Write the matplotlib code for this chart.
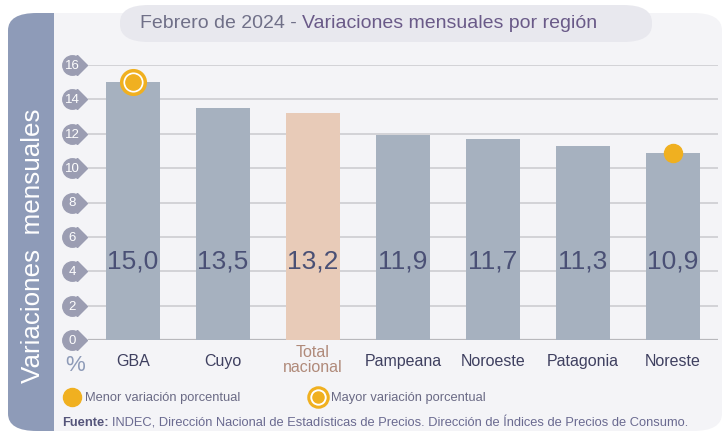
import matplotlib
matplotlib.use('Agg')
import matplotlib.pyplot as plt
from matplotlib.patches import FancyBboxPatch, Rectangle
from matplotlib.transforms import blended_transform_factory

plt.rcParams['font.family'] = ['Liberation Sans', 'DejaVu Sans']

regions = ['GBA', 'Cuyo', 'Total\nnacional', 'Pampeana', 'Noroeste', 'Patagonia', 'Noreste']
values = [15.0, 13.5, 13.2, 11.9, 11.7, 11.3, 10.9]
value_labels = ['15,0', '13,5', '13,2', '11,9', '11,7', '11,3', '10,9']
yticks = [0, 2, 4, 6, 8, 10, 12, 14, 16]

W, H = 725, 435
fig = plt.figure(figsize=(W / 100, H / 100), dpi=100)
fig.patch.set_facecolor('white')

def fx(px):
    return px / W

def fy(py):
    return 1 - py / H

# background panel
panel_col = '#f4f4f7'
band_col = '#8e9bb8'
fig.patches.append(FancyBboxPatch((fx(8), fy(432)), fx(714), (432 - 14) / H,
                                  boxstyle='round,pad=0,rounding_size=0.04',
                                  transform=fig.transFigure, fc=panel_col, ec='none', zorder=0))
fig.patches.append(FancyBboxPatch((fx(8), fy(432)), fx(80), (432 - 14) / H,
                                  boxstyle='round,pad=0,rounding_size=0.04',
                                  transform=fig.transFigure, fc=band_col, ec='none', zorder=0))
fig.patches.append(Rectangle((fx(54), fy(432)), fx(60), (432 - 14) / H,
                             transform=fig.transFigure, fc=panel_col, ec='none', zorder=0))
# title pill
fig.patches.append(FancyBboxPatch((fx(120), fy(43)), fx(532), 37 / H,
                                  boxstyle='round,pad=0,rounding_size=0.04',
                                  transform=fig.transFigure, fc='#e8e8ee', ec='none', zorder=1))

t1 = fig.text(fx(140), fy(24), 'Febrero de 2024 - ', fontsize=14, color='#707088',
              va='center', ha='left')
fig.canvas.draw()
bb = t1.get_window_extent()
fig.text(bb.x1 / W, fy(24), 'Variaciones mensuales por región', fontsize=14,
         color='#6a5a88', va='center', ha='left')

ax = fig.add_axes([fx(88), fy(341), fx(630), 275 / H])
ax.set_zorder(3)
ax.set_facecolor('none')
ax.set_xlim(-0.5, 6.5)
ax.set_ylim(0, 16)
for s in ax.spines.values():
    s.set_visible(False)
ax.set_xticks([])
ax.set_yticks([])

for t in yticks:
    ax.axhline(t, color='#b8b8bc' if t == 0 else '#d0d0d4', lw=1.6 if t == 0 else 1.3, zorder=1)

x = list(range(len(regions)))
cols = ['#a6b1bf'] * len(regions)
cols[2] = '#e8cbb8'
ax.bar(x, values, width=0.61, color=cols, zorder=2)

for i, lab in enumerate(value_labels):
    ax.text(i, 4.6, lab, ha='center', va='center', fontsize=19, color='#4a5075', zorder=3)

for i, r in enumerate(regions):
    c = '#b08a7a' if i == 2 else '#3f4060'
    if i == 2:
        ax.text(i, -0.25, r, ha='center', va='top', fontsize=11.5, color=c, linespacing=1.0)
    else:
        ax.text(i, -1.2, r, ha='center', va='center', fontsize=11.5, color=c)

# markers
orange = '#f0b020'
ax.plot(0, values[0], 'o', ms=17, mfc='white', mec=orange, mew=2.5, zorder=4, clip_on=False)
ax.plot(0, values[0], 'o', ms=11, color=orange, zorder=5, clip_on=False)
ax.plot(6, values[6], 'o', ms=13, color=orange, zorder=4, clip_on=False)

# tick drops
tr = blended_transform_factory(fig.transFigure, ax.transData)
drop_col = '#9b9db2'
for t in yticks:
    ax.plot(fx(77), t, 'D', ms=10.5, color=drop_col, transform=tr, clip_on=False, zorder=3)
    ax.plot(fx(72), t, 'o', ms=14, color=drop_col, transform=tr, clip_on=False, zorder=3)
    ax.text(fx(72), t, str(t), transform=tr, ha='center', va='center', fontsize=9.5,
            color='white', zorder=4)

fig.text(fx(33), fy(246), 'Variaciones  mensuales', rotation=90, fontsize=18.7,
         color='white', ha='center', va='center')
fig.text(fx(75), fy(366), '%', fontsize=16, color='#8e9bb8', ha='center', va='center')

# legend
fig.lines.append(plt.Line2D([fx(72)], [fy(398)], marker='o', ms=13, color=orange,
                            transform=fig.transFigure))
fig.text(fx(85), fy(398), 'Menor variación porcentual', fontsize=9.3, color='#6a6a85',
         va='center', ha='left')
fig.lines.append(plt.Line2D([fx(318)], [fy(398)], marker='o', ms=14, mfc='white', mec=orange,
                            mew=2.2, transform=fig.transFigure))
fig.lines.append(plt.Line2D([fx(318)], [fy(398)], marker='o', ms=8, color=orange,
                            transform=fig.transFigure))
fig.text(fx(331), fy(398), 'Mayor variación porcentual', fontsize=9.3, color='#6a6a85',
         va='center', ha='left')

f1 = fig.text(fx(62), fy(423), 'Fuente:', fontsize=9.3, color='#55557a', fontweight='bold',
              va='center', ha='left')
fig.canvas.draw()
bb = f1.get_window_extent()
fig.text(bb.x1 / W + fx(3), fy(423),
         'INDEC, Dirección Nacional de Estadísticas de Precios. Dirección de Índices de Precios de Consumo.',
         fontsize=9.3, color='#6a6a90', va='center', ha='left')

fig.savefig('out.png', dpi=100)
